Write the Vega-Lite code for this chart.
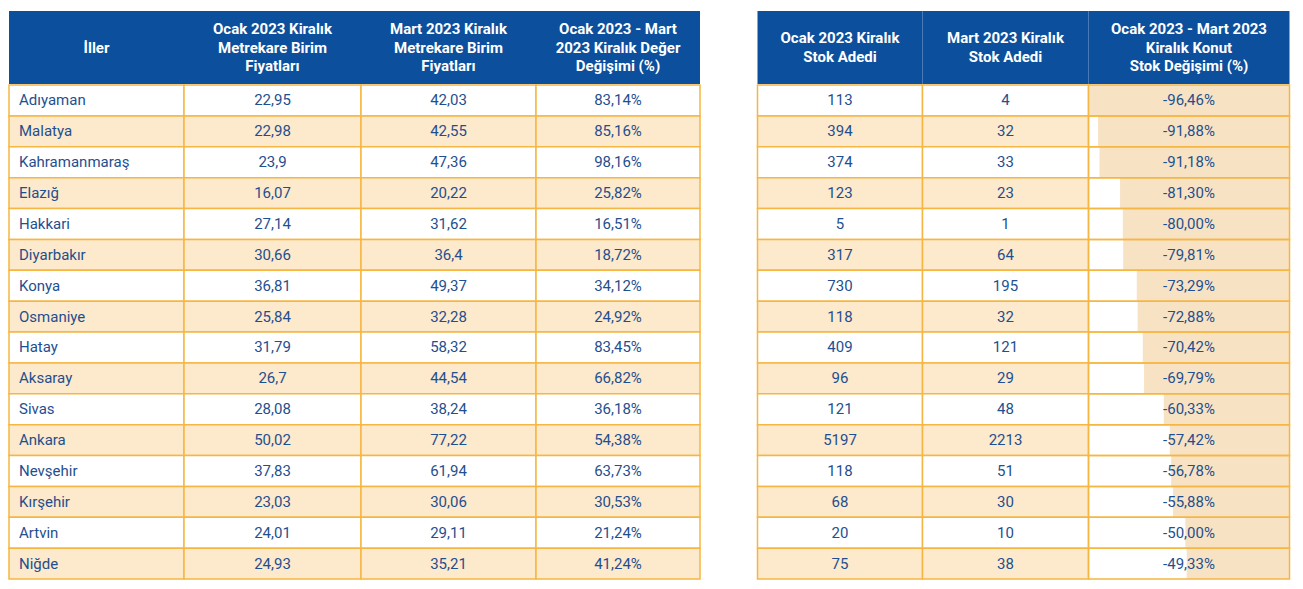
{
  "$schema": "https://vega.github.io/schema/vega-lite/v6.json",
  "padding": {"left": 8, "top": 11, "right": 0, "bottom": 0},
  "background": "white",
  "datasets": {
    "iller": [
      {"il": "Adıyaman", "ocak_fiyat": 22.95, "mart_fiyat": 42.03, "deger_degisimi": 83.14, "ocak_stok": 113, "mart_stok": 4, "stok_degisimi": -96.46},
      {"il": "Malatya", "ocak_fiyat": 22.98, "mart_fiyat": 42.55, "deger_degisimi": 85.16, "ocak_stok": 394, "mart_stok": 32, "stok_degisimi": -91.88},
      {"il": "Kahramanmaraş", "ocak_fiyat": 23.9, "mart_fiyat": 47.36, "deger_degisimi": 98.16, "ocak_stok": 374, "mart_stok": 33, "stok_degisimi": -91.18},
      {"il": "Elazığ", "ocak_fiyat": 16.07, "mart_fiyat": 20.22, "deger_degisimi": 25.82, "ocak_stok": 123, "mart_stok": 23, "stok_degisimi": -81.30},
      {"il": "Hakkari", "ocak_fiyat": 27.14, "mart_fiyat": 31.62, "deger_degisimi": 16.51, "ocak_stok": 5, "mart_stok": 1, "stok_degisimi": -80.00},
      {"il": "Diyarbakır", "ocak_fiyat": 30.66, "mart_fiyat": 36.4, "deger_degisimi": 18.72, "ocak_stok": 317, "mart_stok": 64, "stok_degisimi": -79.81},
      {"il": "Konya", "ocak_fiyat": 36.81, "mart_fiyat": 49.37, "deger_degisimi": 34.12, "ocak_stok": 730, "mart_stok": 195, "stok_degisimi": -73.29},
      {"il": "Osmaniye", "ocak_fiyat": 25.84, "mart_fiyat": 32.28, "deger_degisimi": 24.92, "ocak_stok": 118, "mart_stok": 32, "stok_degisimi": -72.88},
      {"il": "Hatay", "ocak_fiyat": 31.79, "mart_fiyat": 58.32, "deger_degisimi": 83.45, "ocak_stok": 409, "mart_stok": 121, "stok_degisimi": -70.42},
      {"il": "Aksaray", "ocak_fiyat": 26.7, "mart_fiyat": 44.54, "deger_degisimi": 66.82, "ocak_stok": 96, "mart_stok": 29, "stok_degisimi": -69.79},
      {"il": "Sivas", "ocak_fiyat": 28.08, "mart_fiyat": 38.24, "deger_degisimi": 36.18, "ocak_stok": 121, "mart_stok": 48, "stok_degisimi": -60.33},
      {"il": "Ankara", "ocak_fiyat": 50.02, "mart_fiyat": 77.22, "deger_degisimi": 54.38, "ocak_stok": 5197, "mart_stok": 2213, "stok_degisimi": -57.42},
      {"il": "Nevşehir", "ocak_fiyat": 37.83, "mart_fiyat": 61.94, "deger_degisimi": 63.73, "ocak_stok": 118, "mart_stok": 51, "stok_degisimi": -56.78},
      {"il": "Kırşehir", "ocak_fiyat": 23.03, "mart_fiyat": 30.06, "deger_degisimi": 30.53, "ocak_stok": 68, "mart_stok": 30, "stok_degisimi": -55.88},
      {"il": "Artvin", "ocak_fiyat": 24.01, "mart_fiyat": 29.11, "deger_degisimi": 21.24, "ocak_stok": 20, "mart_stok": 10, "stok_degisimi": -50.00},
      {"il": "Niğde", "ocak_fiyat": 24.93, "mart_fiyat": 35.21, "deger_degisimi": 41.24, "ocak_stok": 75, "mart_stok": 38, "stok_degisimi": -49.33}
    ]
  },
  "config": {
    "view": {"stroke": null},
    "text": {"font": "Roboto", "fontSize": 15, "color": "#1f4f8f"}
  },
  "spacing": 55.5,
  "hconcat": [
    {
      "spacing": 0,
      "vconcat": [
        {
          "spacing": 0,
          "bounds": "flush",
          "hconcat": [
            {"width": 175, "height": 73, "data": {"values": [{"baslik": "İller"}]}, "view": {"fill": "#0b4f9d", "stroke": null},
             "mark": {"type": "text", "color": "white", "fontWeight": "bold", "fontSize": 15, "lineBreak": "\n", "lineHeight": 18.5}, "encoding": {"text": {"field": "baslik"}}},
            {"width": 177, "height": 73, "data": {"values": [{"baslik": "Ocak 2023 Kiralık\nMetrekare Birim\nFiyatları"}]}, "view": {"fill": "#0b4f9d", "stroke": null},
             "mark": {"type": "text", "color": "white", "fontWeight": "bold", "fontSize": 15, "lineBreak": "\n", "lineHeight": 18.5, "dy": -18.5}, "encoding": {"text": {"field": "baslik"}}},
            {"width": 175, "height": 73, "data": {"values": [{"baslik": "Mart 2023 Kiralık\nMetrekare Birim\nFiyatları"}]}, "view": {"fill": "#0b4f9d", "stroke": null},
             "mark": {"type": "text", "color": "white", "fontWeight": "bold", "fontSize": 15, "lineBreak": "\n", "lineHeight": 18.5, "dy": -18.5}, "encoding": {"text": {"field": "baslik"}}},
            {"width": 164, "height": 73, "data": {"values": [{"baslik": "Ocak 2023 - Mart\n2023 Kiralık Değer\nDeğişimi (%)"}]}, "view": {"fill": "#0b4f9d", "stroke": null},
             "mark": {"type": "text", "color": "white", "fontWeight": "bold", "fontSize": 15, "lineBreak": "\n", "lineHeight": 18.5, "dy": -18.5}, "encoding": {"text": {"field": "baslik"}}}
          ]
        },
        {
          "spacing": 0,
          "bounds": "flush",
          "data": {"name": "iller"},
          "transform": [
            {"window": [{"op": "row_number", "as": "sira"}]},
            {"calculate": "replace(toString(datum.ocak_fiyat), '.', ',')", "as": "ocak_fiyat_lbl"},
            {"calculate": "replace(toString(datum.mart_fiyat), '.', ',')", "as": "mart_fiyat_lbl"},
            {"calculate": "replace(format(datum.deger_degisimi, '.2f'), '.', ',') + '%'", "as": "deger_lbl"}
          ],
          "hconcat": [
            {"width": 175, "height": 494,
             "encoding": {"y": {"field": "il", "type": "nominal", "sort": null, "axis": null}},
             "layer": [
               {"mark": {"type": "rect", "stroke": "#f6b643", "strokeWidth": 1.5},
                "encoding": {"color": {"condition": {"test": "datum.sira % 2 == 0", "value": "#fde9cb"}, "value": "white"}}},
               {"mark": {"type": "text", "align": "left"}, "encoding": {"x": {"value": 10}, "text": {"field": "il"}}}
             ]},
            {"width": 177, "height": 494,
             "encoding": {"y": {"field": "il", "type": "nominal", "sort": null, "axis": null}},
             "layer": [
               {"mark": {"type": "rect", "stroke": "#f6b643", "strokeWidth": 1.5},
                "encoding": {"color": {"condition": {"test": "datum.sira % 2 == 0", "value": "#fde9cb"}, "value": "white"}}},
               {"mark": {"type": "text"}, "encoding": {"text": {"field": "ocak_fiyat_lbl"}}}
             ]},
            {"width": 175, "height": 494,
             "encoding": {"y": {"field": "il", "type": "nominal", "sort": null, "axis": null}},
             "layer": [
               {"mark": {"type": "rect", "stroke": "#f6b643", "strokeWidth": 1.5},
                "encoding": {"color": {"condition": {"test": "datum.sira % 2 == 0", "value": "#fde9cb"}, "value": "white"}}},
               {"mark": {"type": "text"}, "encoding": {"text": {"field": "mart_fiyat_lbl"}}}
             ]},
            {"width": 164, "height": 494,
             "encoding": {"y": {"field": "il", "type": "nominal", "sort": null, "axis": null}},
             "layer": [
               {"mark": {"type": "rect", "stroke": "#f6b643", "strokeWidth": 1.5},
                "encoding": {"color": {"condition": {"test": "datum.sira % 2 == 0", "value": "#fde9cb"}, "value": "white"}}},
               {"mark": {"type": "text"}, "encoding": {"text": {"field": "deger_lbl"}}}
             ]}
          ]
        }
      ]
    },
    {
      "spacing": 0,
      "vconcat": [
        {
          "spacing": 0,
          "bounds": "flush",
          "hconcat": [
            {"width": 165, "height": 73, "data": {"values": [{"baslik": "Ocak 2023 Kiralık\nStok Adedi"}]}, "view": {"fill": "#0b4f9d", "stroke": null},
             "mark": {"type": "text", "color": "white", "fontWeight": "bold", "fontSize": 15, "lineBreak": "\n", "lineHeight": 18.5, "dy": -9.25}, "encoding": {"text": {"field": "baslik"}}},
            {"width": 166, "height": 73, "data": {"values": [{"baslik": "Mart 2023 Kiralık\nStok Adedi"}]}, "view": {"fill": "#0b4f9d", "stroke": null},
             "mark": {"type": "text", "color": "white", "fontWeight": "bold", "fontSize": 15, "lineBreak": "\n", "lineHeight": 18.5, "dy": -9.25}, "encoding": {"text": {"field": "baslik"}}},
            {"width": 201, "height": 73, "data": {"values": [{"baslik": "Ocak 2023 - Mart 2023\nKiralık Konut\nStok Değişimi (%)"}]}, "view": {"fill": "#0b4f9d", "stroke": null},
             "mark": {"type": "text", "color": "white", "fontWeight": "bold", "fontSize": 15, "lineBreak": "\n", "lineHeight": 18.5, "dy": -18.5}, "encoding": {"text": {"field": "baslik"}}}
          ]
        },
        {
          "spacing": 0,
          "bounds": "flush",
          "data": {"name": "iller"},
          "transform": [
            {"window": [{"op": "row_number", "as": "sira"}]},
            {"calculate": "replace(replace(format(datum.stok_degisimi, '.2f'), '.', ','), '\u2212', '-') + '%'", "as": "stok_lbl"}
          ],
          "hconcat": [
            {"width": 165, "height": 494,
             "encoding": {"y": {"field": "il", "type": "nominal", "sort": null, "axis": null}},
             "layer": [
               {"mark": {"type": "rect", "stroke": "#f6b643", "strokeWidth": 1.5},
                "encoding": {"color": {"condition": {"test": "datum.sira % 2 == 0", "value": "#fde9cb"}, "value": "white"}}},
               {"mark": {"type": "text"}, "encoding": {"text": {"field": "ocak_stok"}}}
             ]},
            {"width": 166, "height": 494,
             "encoding": {"y": {"field": "il", "type": "nominal", "sort": null, "axis": null}},
             "layer": [
               {"mark": {"type": "rect", "stroke": "#f6b643", "strokeWidth": 1.5},
                "encoding": {"color": {"condition": {"test": "datum.sira % 2 == 0", "value": "#fde9cb"}, "value": "white"}}},
               {"mark": {"type": "text"}, "encoding": {"text": {"field": "mart_stok"}}}
             ]},
            {"width": 201, "height": 494,
             "encoding": {"y": {"field": "il", "type": "nominal", "sort": null, "axis": null}},
             "layer": [
               {"mark": {"type": "rect", "color": "#f7e2c3"},
                "encoding": {
                  "x": {"field": "stok_degisimi", "type": "quantitative", "scale": {"domain": [-96.46, 0], "nice": false, "zero": false}, "axis": null},
                  "x2": {"datum": 0}
                }},
               {"mark": {"type": "rect", "fill": null, "fillOpacity": 0, "stroke": "#f6b643", "strokeWidth": 1.5}},
               {"mark": {"type": "text"}, "encoding": {"text": {"field": "stok_lbl"}}}
             ]}
          ]
        }
      ]
    }
  ]
}
